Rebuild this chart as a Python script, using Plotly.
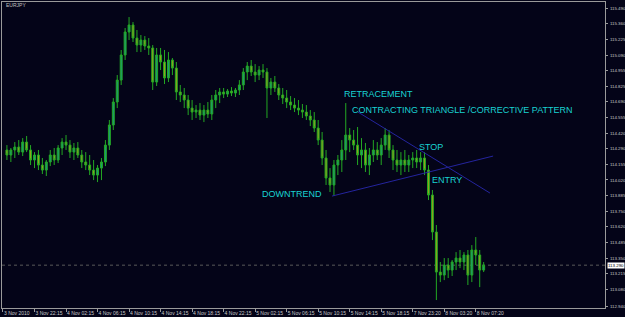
import plotly.graph_objects as go

symbol = "EURJPY"

bar_index = list(range(1, 123))

open_ = [114.277,114.234,114.277,114.302,114.259,114.345,114.277,114.191,114.234,114.148,
         114.105,114.174,114.234,114.191,114.294,114.345,114.319,114.259,114.294,114.234,
         114.174,114.148,114.105,114.062,114.122,114.174,114.319,114.491,114.688,114.876,
         115.091,115.288,115.348,115.236,115.176,115.219,115.168,115.151,114.859,115.091,
         115.031,114.894,115.048,114.979,114.774,114.748,114.705,114.636,114.602,114.619,
         114.576,114.619,114.585,114.705,114.748,114.774,114.756,114.782,114.765,114.791,
         114.834,114.945,114.996,114.945,114.919,114.962,114.945,114.808,114.859,114.808,
         114.748,114.722,114.688,114.662,114.636,114.619,114.602,114.568,114.534,114.465,
         114.362,114.208,114.037,113.977,114.148,114.191,114.277,114.405,114.362,114.319,
         114.234,114.277,114.148,114.234,114.277,114.234,114.319,114.405,114.277,114.191,
         114.148,114.191,114.148,114.191,114.208,114.174,114.208,114.105,113.891,113.574,
         113.231,113.205,113.291,113.248,113.317,113.351,113.317,113.377,113.205,113.420,
         113.377,113.248]
high = [114.319,114.294,114.345,114.362,114.379,114.397,114.319,114.259,114.277,114.208,
        114.191,114.277,114.294,114.319,114.379,114.405,114.362,114.337,114.345,114.277,
        114.259,114.234,114.191,114.148,114.208,114.362,114.534,114.722,114.919,115.134,
        115.322,115.416,115.373,115.305,115.262,115.253,115.236,115.176,115.151,115.151,
        115.134,115.116,115.065,115.031,114.834,114.808,114.748,114.705,114.662,114.679,
        114.662,114.688,114.748,114.791,114.808,114.808,114.799,114.816,114.808,114.876,
        114.979,115.031,115.048,115.013,114.996,115.013,114.979,114.894,114.911,114.842,
        114.808,114.791,114.739,114.722,114.705,114.671,114.662,114.619,114.602,114.534,
        114.431,114.277,114.122,114.191,114.234,114.362,114.679,114.465,114.448,114.474,
        114.379,114.337,114.294,114.362,114.345,114.379,114.465,114.448,114.319,114.277,
        114.259,114.277,114.234,114.259,114.277,114.259,114.259,114.148,113.934,113.634,
        113.317,113.351,113.351,113.334,113.402,113.420,113.402,113.420,113.462,113.531,
        113.420,113.317]
low = [114.191,114.174,114.208,114.234,114.225,114.259,114.148,114.122,114.105,114.071,
       114.054,114.139,114.148,114.165,114.234,114.277,114.208,114.191,114.208,114.122,
       114.105,114.062,114.019,114.002,114.019,114.139,114.277,114.448,114.636,114.834,
       115.048,115.219,115.202,115.116,115.116,115.134,115.091,114.791,114.825,114.962,
       114.842,114.859,114.919,114.705,114.688,114.636,114.576,114.534,114.551,114.534,
       114.516,114.551,114.534,114.636,114.679,114.722,114.731,114.739,114.731,114.748,
       114.791,114.876,114.911,114.859,114.876,114.894,114.551,114.748,114.774,114.705,
       114.671,114.636,114.619,114.602,114.576,114.551,114.534,114.482,114.431,114.319,
       114.148,113.977,113.917,113.882,114.062,114.088,114.191,114.259,114.277,114.148,
       114.122,114.088,114.062,114.174,114.191,114.148,114.277,114.208,114.105,114.088,
       114.062,114.088,114.088,114.122,114.122,114.105,114.062,113.848,113.505,112.991,
       113.145,113.162,113.180,113.197,113.248,113.265,113.248,113.120,113.145,113.291,
       113.102,113.231]
close = [114.234,114.277,114.302,114.259,114.345,114.277,114.191,114.234,114.148,114.105,
         114.174,114.234,114.191,114.294,114.345,114.319,114.259,114.294,114.234,114.174,
         114.148,114.105,114.062,114.122,114.174,114.319,114.491,114.688,114.876,115.091,
         115.288,115.348,115.236,115.176,115.219,115.168,115.151,114.859,115.091,115.031,
         114.894,115.048,114.979,114.774,114.748,114.705,114.636,114.602,114.619,114.576,
         114.619,114.585,114.705,114.748,114.774,114.756,114.782,114.765,114.791,114.834,
         114.945,114.996,114.945,114.919,114.962,114.945,114.808,114.859,114.808,114.748,
         114.722,114.688,114.662,114.636,114.619,114.602,114.568,114.534,114.465,114.362,
         114.208,114.037,113.977,114.148,114.191,114.277,114.405,114.362,114.319,114.234,
         114.277,114.148,114.234,114.277,114.234,114.319,114.405,114.277,114.191,114.148,
         114.191,114.148,114.191,114.208,114.174,114.208,114.105,113.891,113.574,113.231,
         113.205,113.291,113.248,113.317,113.351,113.317,113.377,113.205,113.420,113.377,
         113.248,113.290]

current_price = 113.290

price_ticks = [115.490,115.360,115.225,115.090,114.955,114.825,114.690,114.555,114.420,114.290,
               114.155,114.020,113.885,113.750,113.620,113.485,113.350,113.215,113.080,112.940]

time_tick_index = [0, 8, 16, 24, 32, 40, 48, 56, 64, 72, 80, 88, 96, 104, 112, 120]
time_tick_labels = ["3 Nov 2010", "3 Nov 22:15", "4 Nov 02:15", "4 Nov 06:15", "4 Nov 10:15",
                    "4 Nov 14:15", "4 Nov 18:15", "4 Nov 22:15", "5 Nov 02:15", "5 Nov 06:15",
                    "5 Nov 10:15", "5 Nov 14:15", "5 Nov 18:15", "7 Nov 23:20", "8 Nov 03:20",
                    "8 Nov 07:20"]

# trendlines: (bar index, price)
lower_line_x = [83.5, 124.4]
lower_line_y = [113.882, 114.225]
upper_line_x = [90.1, 123.6]
upper_line_y = [114.602, 113.908]

labels_text = ["RETRACEMENT", "CONTRACTING TRIANGLE /CORRECTIVE PATTERN", "STOP", "ENTRY", "DOWNTREND"]
labels_x = [86.0, 88.2, 105.1, 108.3, 65.2]
labels_y = [114.760, 114.620, 114.305, 114.020, 113.900]

BG = "#040418"
FRAME = "#9a9a9a"
TEXT_CYAN = "#19d2d2"
LINE_BLUE = "#24249e"

fig = go.Figure()

fig.add_trace(go.Candlestick(
    x=bar_index, open=open_, high=high, low=low, close=close,
    increasing=dict(line=dict(color="#23a823", width=1), fillcolor="#1d9a7c"),
    decreasing=dict(line=dict(color="#23a823", width=1), fillcolor="#9aa41c"),
    whiskerwidth=0, showlegend=False, hoverinfo="skip",
))

fig.add_trace(go.Scatter(x=lower_line_x, y=lower_line_y, mode="lines",
                         line=dict(color=LINE_BLUE, width=1), showlegend=False, hoverinfo="skip"))
fig.add_trace(go.Scatter(x=upper_line_x, y=upper_line_y, mode="lines",
                         line=dict(color=LINE_BLUE, width=1), showlegend=False, hoverinfo="skip"))

fig.add_shape(type="line", xref="paper", x0=0, x1=1, yref="y", y0=current_price, y1=current_price,
              line=dict(color="#5a5a5a", width=1, dash="dot"), layer="below")

for t, x, y in zip(labels_text, labels_x, labels_y):
    fig.add_annotation(x=x, y=y, text=t, showarrow=False, xanchor="left", yanchor="middle",
                       font=dict(family="Arial", size=9, color=TEXT_CYAN))

fig.add_annotation(xref="paper", yref="paper", x=0.003, y=0.99, text=symbol, showarrow=False,
                   xanchor="left", yanchor="middle", font=dict(family="Arial", size=5, color="#c0c0c0"))

fig.add_annotation(xref="paper", yref="y", x=1, y=current_price, text=f"{current_price:.3f}",
                   showarrow=False, xanchor="left", yanchor="middle", xshift=2,
                   bgcolor="#ffffff", borderpad=0,
                   font=dict(family="Arial", size=4.4, color="#000000"))

fig.update_layout(
    width=625, height=317,
    margin=dict(l=2, r=20, t=2, b=9, autoexpand=False),
    paper_bgcolor=BG, plot_bgcolor=BG,
    xaxis=dict(range=[-0.25, 152.8], rangeslider=dict(visible=False),
               tickmode="array", tickvals=time_tick_index, ticktext=time_tick_labels,
               tickangle=0, automargin=False,
               ticks="outside", ticklen=3, tickcolor=FRAME, ticklabelposition="outside right",
               tickfont=dict(family="Arial", size=5, color="#c8c8c8"),
               showgrid=False, zeroline=False, showline=True, linecolor=FRAME, linewidth=1,
               mirror=True),
    yaxis=dict(range=[112.923, 115.545], side="right", automargin=False,
               tickmode="array", tickvals=price_ticks, ticktext=[f"{v:.3f}" for v in price_ticks],
               ticks="outside", ticklen=2, tickcolor=FRAME, ticklabelstandoff=1,
               tickfont=dict(family="Arial", size=4.4, color="#c8c8c8"),
               showgrid=False, zeroline=False, showline=True, linecolor=FRAME, linewidth=1,
               mirror=True),
)

fig.write_html("out.html")
